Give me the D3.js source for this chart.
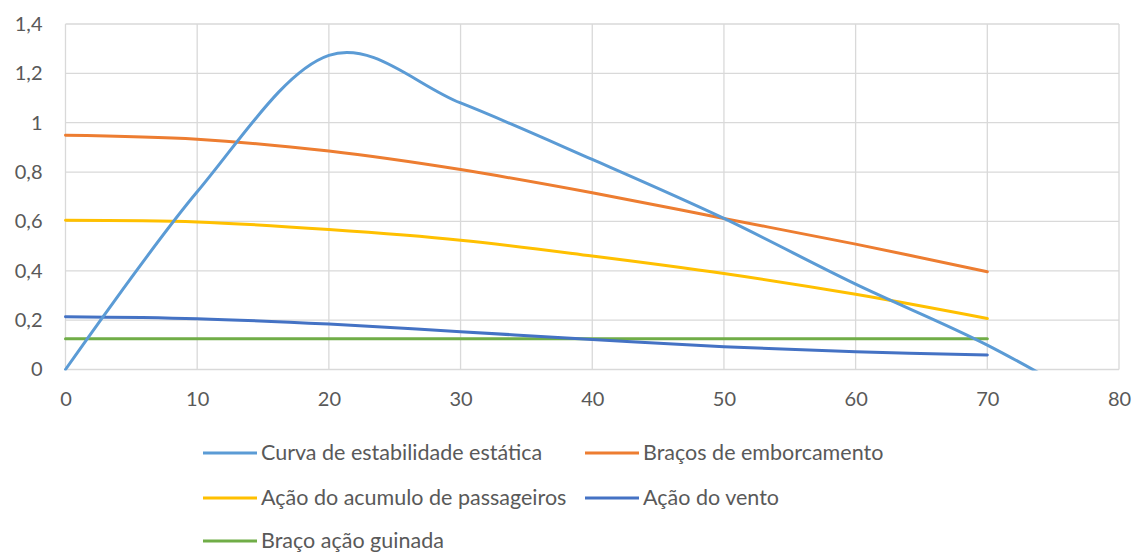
<!DOCTYPE html>
<html>
<head>
<meta charset="utf-8">
<script src="https://cdn.jsdelivr.net/npm/d3@7"></script>
<style>
  html, body { margin: 0; padding: 0; background: #fff; }
  svg text { font-family: "Lato", "Open Sans", sans-serif; fill: #595959; }
</style>
</head>
<body>
<svg id="chart" width="1134" height="555"></svg>
<script>
// Heel angle (degrees) and righting / heeling lever arms
const angles = [0, 10, 20, 30, 40, 50, 60, 70];
const anglesStability = [0, 10, 20, 30, 40, 50, 60, 70, 80];

const curvaEstabilidade = [0, 0.72, 1.273, 1.08, 0.851, 0.612, 0.346, 0.099, -0.2];
const bracosEmborcamento = [0.949, 0.933, 0.885, 0.81, 0.716, 0.612, 0.508, 0.396];
const acumuloPassageiros = [0.605, 0.598, 0.567, 0.524, 0.46, 0.389, 0.305, 0.207];
const acaoVento = [0.214, 0.206, 0.184, 0.153, 0.122, 0.092, 0.072, 0.059];
const bracoGuinada = [0.125, 0.125, 0.125, 0.125, 0.125, 0.125, 0.125, 0.125];

const xTicks = [0, 10, 20, 30, 40, 50, 60, 70, 80];
const yTicks = [0, 0.2, 0.4, 0.6, 0.8, 1, 1.2, 1.4];

const seriesNames = [
  "Curva de estabilidade estática",
  "Braços de emborcamento",
  "Ação do acumulo de passageiros",
  "Ação do vento",
  "Braço ação guinada"
];
const seriesColors = ["#5B9BD5", "#ED7D31", "#FFC000", "#4472C4", "#70AD47"];

const series = [
  { name: seriesNames[0], x: anglesStability, y: curvaEstabilidade, color: seriesColors[0] },
  { name: seriesNames[1], x: angles, y: bracosEmborcamento, color: seriesColors[1] },
  { name: seriesNames[2], x: angles, y: acumuloPassageiros, color: seriesColors[2] },
  { name: seriesNames[3], x: angles, y: acaoVento, color: seriesColors[3] },
  { name: seriesNames[4], x: angles, y: bracoGuinada, color: seriesColors[4] }
];

const svg = d3.select("#chart");
const plot = { left: 65.5, right: 1119, top: 24, bottom: 369.5 };

const x = d3.scaleLinear().domain([0, 80]).range([plot.left, plot.right]);
const y = d3.scaleLinear().domain([0, 1.4]).range([plot.bottom, plot.top]);

const fmt = v => d3.format("~g")(v).replace(".", ",");

// Gridlines
const grid = svg.append("g").attr("stroke", "#D9D9D9").attr("stroke-width", 1.3);
grid.selectAll("line.h").data(yTicks).join("line")
  .attr("x1", plot.left).attr("x2", plot.right)
  .attr("y1", d => y(d)).attr("y2", d => y(d));
grid.selectAll("line.v").data(xTicks).join("line")
  .attr("x1", d => x(d)).attr("x2", d => x(d))
  .attr("y1", plot.top).attr("y2", plot.bottom);

// Axes (labels only; lines come from the grid)
const xAxis = svg.append("g")
  .attr("transform", `translate(0,${plot.bottom + 14})`)
  .call(d3.axisBottom(x).tickValues(xTicks).tickFormat(fmt).tickSize(0).tickPadding(8));
const yAxis = svg.append("g")
  .attr("transform", `translate(${plot.left - 23},0)`)
  .call(d3.axisLeft(y).tickValues(yTicks).tickFormat(fmt).tickSize(0).tickPadding(0));
[xAxis, yAxis].forEach(a => {
  a.select(".domain").remove();
  a.selectAll("text").attr("font-size", 20).attr("fill", "#595959")
    .style("font-family", "Lato, sans-serif");
});

// Series lines, clipped to the plot area
svg.append("clipPath").attr("id", "plotClip").append("rect")
  .attr("x", plot.left - 3).attr("y", plot.top - 3)
  .attr("width", plot.right - plot.left + 6).attr("height", plot.bottom - plot.top + 4);

const line = d3.line().curve(d3.curveCardinal.tension(0));
const lines = svg.append("g").attr("clip-path", "url(#plotClip)");
lines.selectAll("path").data(series.slice().reverse()).join("path")
  .attr("fill", "none")
  .attr("stroke", d => d.color)
  .attr("stroke-width", 3)
  .attr("stroke-linecap", "round")
  .attr("d", d => line(d.x.map((v, i) => [x(v), y(d.y[i])])));

// Legend
const legendPos = [
  { lx: 203, tx: 261, cy: 453 },
  { lx: 585, tx: 643, cy: 453 },
  { lx: 203, tx: 261, cy: 498 },
  { lx: 585, tx: 643, cy: 498 },
  { lx: 203, tx: 261, cy: 541 }
];
const legend = svg.append("g");
series.forEach((s, i) => {
  const p = legendPos[i];
  legend.append("line")
    .attr("x1", p.lx).attr("x2", p.lx + 54)
    .attr("y1", p.cy).attr("y2", p.cy)
    .attr("stroke", s.color).attr("stroke-width", 3);
  legend.append("text")
    .attr("x", p.tx).attr("y", p.cy)
    .attr("dy", "0.34em")
    .attr("font-size", 21.5)
    .text(s.name);
});
</script>
</body>
</html>
